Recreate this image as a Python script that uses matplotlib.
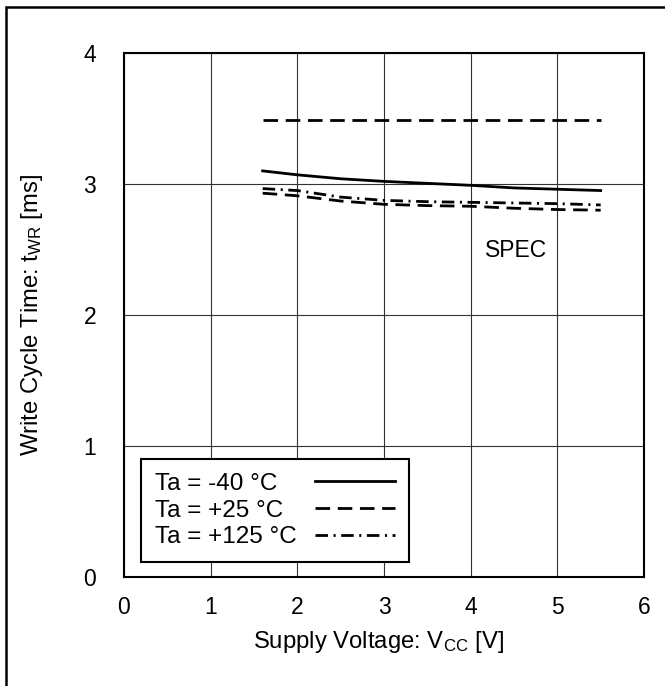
import matplotlib
matplotlib.use("Agg")
import matplotlib.pyplot as plt
from matplotlib.patches import Rectangle

plt.rcParams['font.family'] = ['Liberation Sans', 'DejaVu Sans']
plt.rcParams['mathtext.fontset'] = 'custom'
plt.rcParams['mathtext.rm'] = 'Liberation Sans'
plt.rcParams['mathtext.it'] = 'Liberation Sans'
plt.rcParams['lines.scale_dashes'] = False

# ---- data ----
vcc = [1.6, 2.0, 2.5, 3.0, 3.5, 4.0, 4.5, 5.0, 5.5]
t_m40 = [3.10, 3.07, 3.04, 3.02, 3.005, 2.99, 2.97, 2.96, 2.95]
t_spec = [3.49, 3.49, 3.49, 3.49, 3.49, 3.49, 3.49, 3.49, 3.49]
t_p25 = [2.93, 2.91, 2.87, 2.845, 2.835, 2.83, 2.815, 2.805, 2.80]
t_p125 = [2.965, 2.95, 2.90, 2.875, 2.865, 2.86, 2.855, 2.85, 2.84]
labels = ['Ta = -40 °C', 'Ta = +25 °C', 'Ta = +125 °C']
xticks = [0, 1, 2, 3, 4, 5, 6]
yticks = [0, 1, 2, 3, 4]

W, H = 665, 686
fig = plt.figure(figsize=(W / 100, H / 100), dpi=100)
ax = fig.add_axes([124 / W, 1 - 577 / H, 520 / W, 524 / H])

lw = 2.0
dash = (0, (10.5, 5.5))
dashdot = (0, (9, 4, 1.5, 4))
l1, = ax.plot(vcc, t_m40, color='black', lw=lw, linestyle='-')
ax.plot(vcc, t_spec, color='black', lw=lw, linestyle=dash)
l2, = ax.plot(vcc, t_p25, color='black', lw=lw, linestyle=dash)
l3, = ax.plot(vcc, t_p125, color='black', lw=lw, linestyle=dashdot)

ax.set_xlim(0, 6)
ax.set_ylim(0, 4)
ax.set_xticks(xticks)
ax.set_yticks(yticks)
ax.grid(True, color='#333333', lw=0.8)
ax.set_axisbelow(True)
ax.tick_params(length=0, labelsize=16.5)
ax.tick_params(axis='x', pad=14)
ax.tick_params(axis='y', pad=20)
for s in ax.spines.values():
    s.set_linewidth(1.5)
    s.set_color('black')

ax.text(4.52, 2.49, 'SPEC', fontsize=16.5, ha='center', va='center')

fs = 17.5
leg = ax.legend([l1, l2, l3], labels, loc='lower left',
                bbox_to_anchor=(17 / 520, 15 / 524), borderaxespad=0,
                fontsize=fs, markerfirst=False, handlelength=3.3,
                handletextpad=0.75, labelspacing=0.19, borderpad=0.57,
                fancybox=False, framealpha=1, edgecolor='black')
leg.get_frame().set_linewidth(1.5)

# left-align legend labels while keeping handles aligned
fig.canvas.draw()
renderer = fig.canvas.get_renderer()
widths = [t.get_window_extent(renderer).width for t in leg.get_texts()]
maxw = max(widths)
col = leg._legend_handle_box.get_children()[0]
col.align = 'left'
for row, w in zip(col.get_children(), widths):
    row.sep = row.sep + (maxw - w) * 72.0 / fig.dpi

fig.text(378 / W, 1 - 648 / H, r'Supply Voltage: V$_{\mathrm{CC}}$ [V]',
         fontsize=17.2, ha='center', va='baseline')
fig.text(32 / W, 1 - 315 / H, r'Write Cycle Time: t$_{\mathrm{WR}}$ [ms]',
         fontsize=17.2, ha='center', va='center', rotation=90)

fig.patches.append(Rectangle((6 / W, -0.05), 1.2, 1 - 7 / H + 0.05,
                             transform=fig.transFigure, fill=False,
                             edgecolor='black', lw=1.8))

fig.savefig('out.png', dpi=100)
